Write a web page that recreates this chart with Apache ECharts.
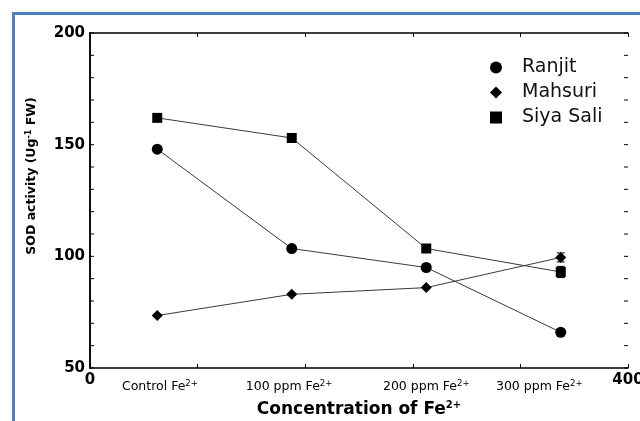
<!DOCTYPE html>
<html>
<head>
<meta charset="utf-8">
<script src="https://cdn.jsdelivr.net/npm/echarts@6/dist/echarts.min.js"></script>
<style>
html,body{margin:0;padding:0;background:#fff;}
#chart{width:640px;height:421px;}
</style>
</head>
<body>
<div id="chart"></div>
<script>
// ---- data ----
var xPositions = [50, 150, 250, 350];
var categories = ['Control Fe', '100 ppm Fe', '200 ppm Fe', '300 ppm Fe'];
var categoryLabelPos = [52, 148, 250, 334];
var seriesNames = ['Ranjit', 'Mahsuri', 'Siya Sali'];
var ranjit = [148, 103.5, 95, 66];
var mahsuri = [73.5, 83, 86, 99.5];
var siyaSali = [162, 153, 103.5, 93];
var ranjitErr = [1, 0.8, 1.5, 1.5];
var mahsuriErr = [0.5, 0.5, 0.5, 2];
var siyaSaliErr = [0.6, 2, 1, 2.5];
var yTicks = [50, 100, 150, 200];
var yMinorTicks = [60, 70, 80, 90, 110, 120, 130, 140, 160, 170, 180, 190];
var xEndLabels = [0, 400];

var font = '"DejaVu Sans", "Liberation Sans", Arial, sans-serif';
var chart = echarts.init(document.getElementById('chart'));

function pairs(vals) { return vals.map(function (v, i) { return [xPositions[i], v]; }); }
function errData(vals, errs) { return vals.map(function (v, i) { return [xPositions[i], v - errs[i], v + errs[i]]; }); }

function errRender(params, api) {
  var x = api.value(0);
  var lo = api.coord([x, api.value(1)]);
  var hi = api.coord([x, api.value(2)]);
  var cap = 4;
  var st = { stroke: '#000', lineWidth: 1 };
  return {
    type: 'group',
    children: [
      { type: 'line', shape: { x1: lo[0], y1: lo[1], x2: hi[0], y2: hi[1] }, style: st },
      { type: 'line', shape: { x1: lo[0] - cap, y1: lo[1], x2: lo[0] + cap, y2: lo[1] }, style: st },
      { type: 'line', shape: { x1: hi[0] - cap, y1: hi[1], x2: hi[0] + cap, y2: hi[1] }, style: st }
    ]
  };
}

// inward tick marks on the left and right frame edges
function tickRender(params, api) {
  var v = api.value(0);
  var l = api.coord([0, v]);
  var r = api.coord([400, v]);
  var st = { stroke: '#000', lineWidth: 1 };
  return {
    type: 'group',
    children: [
      { type: 'line', shape: { x1: l[0], y1: l[1], x2: l[0] + 4, y2: l[1] }, style: st },
      { type: 'line', shape: { x1: r[0], y1: r[1], x2: r[0] - 4, y2: r[1] }, style: st }
    ]
  };
}

var symbols = ['circle', 'diamond', 'rect'];
var sizes = [11, 11, 10];
var values = [ranjit, mahsuri, siyaSali];
var errs = [ranjitErr, mahsuriErr, siyaSaliErr];

var series = [];
values.forEach(function (vals, i) {
  series.push({
    name: seriesNames[i], type: 'line', data: pairs(vals),
    symbol: symbols[i], symbolSize: sizes[i],
    lineStyle: { color: '#3a3a3a', width: 1 },
    itemStyle: { color: '#000' },
    z: 3
  });
});
values.forEach(function (vals, i) {
  series.push({
    type: 'custom', data: errData(vals, errs[i]), renderItem: errRender, z: 2, silent: true
  });
});
series.push({
  type: 'custom', data: yTicks.concat(yMinorTicks).map(function (v) { return [v]; }),
  encode: { y: 0 }, renderItem: tickRender, z: 1, silent: true, clip: false
});

var sup = { fontSize: 8.5, fontWeight: 'normal', fontFamily: font, color: '#000', padding: [0, 0, 7, 0] };

function yAxisDef(pos, showLabels) {
  return {
    type: 'value', min: yTicks[0], max: yTicks[yTicks.length - 1], interval: 50, position: pos,
    axisLine: { show: true, lineStyle: { color: '#000', width: 1.5 } },
    axisTick: { show: false },
    splitLine: { show: false },
    axisLabel: { show: showLabels, margin: 5, fontSize: 15, fontWeight: 'bold', fontFamily: font, color: '#000' }
  };
}

var option = {
  animation: false,
  backgroundColor: '#fff',
  grid: { left: 90, top: 33, right: 12, bottom: 53, containLabel: false, outerBoundsMode: 'none' },
  legend: {
    orient: 'vertical', left: 485, top: 53, itemGap: 6,
    itemWidth: 12, itemHeight: 12,
    textStyle: { fontSize: 19, fontFamily: font, color: '#111', padding: [0, 0, 0, 15] },
    data: seriesNames.map(function (n, i) { return { name: n, icon: symbols[i] }; })
  },
  xAxis: [
    {
      type: 'value', min: 0, max: 400, interval: 80, position: 'bottom',
      axisLine: { lineStyle: { color: '#000', width: 1.5 } },
      axisTick: { inside: true, length: 4, lineStyle: { color: '#000' } },
      splitLine: { show: false },
      axisLabel: {
        margin: 5, fontSize: 15, fontWeight: 'bold', fontFamily: font, color: '#000',
        formatter: function (v) { return xEndLabels.indexOf(v) >= 0 ? String(v) : ''; }
      },
      name: 'Concentration of Fe{sup|2+}', nameLocation: 'middle', nameGap: 32,
      nameTextStyle: { fontSize: 17, fontWeight: 'bold', fontFamily: font, color: '#000', rich: { sup: { fontSize: 10, fontWeight: 'bold', fontFamily: font, color: '#000', padding: [0, 0, 9, 0] } } }
    },
    {
      type: 'value', min: 0, max: 400, interval: 80, position: 'top',
      axisLine: { lineStyle: { color: '#000', width: 1.5 } },
      axisTick: { inside: true, length: 4, lineStyle: { color: '#000' } },
      axisLabel: { show: false }, splitLine: { show: false }
    },
    {
      type: 'value', min: 0, max: 400, interval: 1, position: 'bottom',
      axisLine: { show: false }, axisTick: { show: false }, splitLine: { show: false },
      axisLabel: {
        margin: 11, fontSize: 12.5, fontFamily: font, color: '#000', showMinLabel: true, showMaxLabel: true,
        formatter: function (v) {
          var k = categoryLabelPos.indexOf(v);
          return k >= 0 ? categories[k] + '{sup|2+}' : '';
        },
        rich: { sup: sup }
      }
    }
  ],
  yAxis: [yAxisDef('left', true), yAxisDef('right', false)],
  graphic: [
    { type: 'rect', shape: { x: 13.5, y: 13.5, width: 700, height: 500 }, style: { fill: 'none', stroke: '#4f81bd', lineWidth: 3 }, silent: true },
    {
      type: 'text', x: 32, y: 176, rotation: Math.PI / 2,
      style: {
        text: 'SOD activity (Ug{sup|-1} FW)', fill: '#000', font: 'bold 12.5px ' + font,
        align: 'center', verticalAlign: 'middle',
        rich: { sup: { fontSize: 8, fontWeight: 'bold', fontFamily: font, fill: '#000', padding: [0, 0, 7, 0] } }
      }
    }
  ],
  series: series
};
chart.setOption(option);
</script>
</body>
</html>
